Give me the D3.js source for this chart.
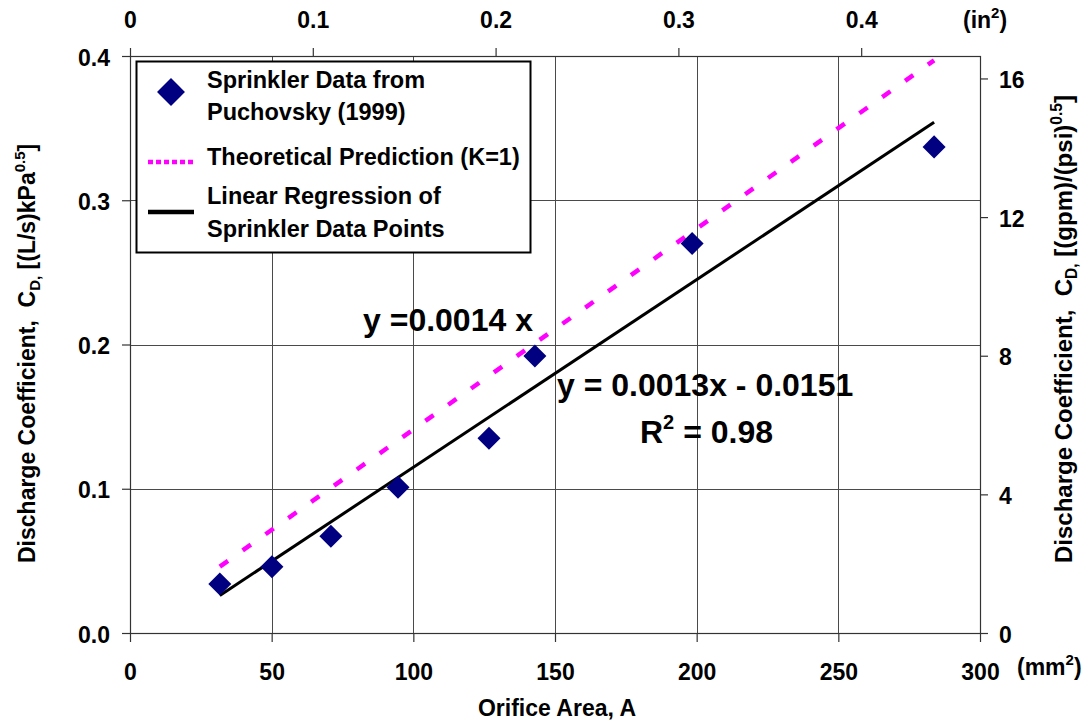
<!DOCTYPE html>
<html>
<head>
<meta charset="utf-8">
<script src="https://cdn.jsdelivr.net/npm/d3@7"></script>
<style>
  body { margin: 0; background: #fff; }
  svg text { font-family: "Liberation Sans", Arial, sans-serif; font-weight: bold; fill: #000; white-space: pre; }
</style>
</head>
<body>
<svg id="chart"></svg>
<script>
// data
const areaMm2 = [31.7, 50.1, 70.9, 94.6, 126.7, 142.9, 198.4, 283.8]
const cdData = [0.034, 0.046, 0.067, 0.101, 0.135, 0.192, 0.270, 0.337]
// line end points
const theoryX = [31.7, 283.8]
const theoryY = [0.046, 0.397]
const regX = [31.7, 283.8]
const regY = [0.026, 0.354]
// ticks
const xTicks = [0, 50, 100, 150, 200, 250, 300]
const yTicks = [0.0, 0.1, 0.2, 0.3, 0.4]
const topTicks = [0, 0.1, 0.2, 0.3, 0.4]
const rightTicks = [0, 4, 8, 12, 16]
const legendLabels = [["Sprinkler Data from", "Puchovsky (1999)"], ["Theoretical Prediction (K=1)"], ["Linear Regression of", "Sprinkler Data Points"]]

const width = 1088, height = 723
const plotL = 130, plotR = 980, plotT = 56, plotB = 633
const mm2PerIn2 = 645.16
const gpmFactor = 0.024027 // (L/s)/kPa^0.5 per gpm/psi^0.5

const svg = d3.select('#chart').attr('width', width).attr('height', height)

const xScale = d3.scaleLinear().domain([0, 300]).range([plotL, plotR])
const yScale = d3.scaleLinear().domain([0, 0.4]).range([plotB, plotT])
const xTopScale = d3.scaleLinear().domain([0, 300 / mm2PerIn2]).range([plotL, plotR])
const yRightScale = d3.scaleLinear().domain([0, 0.4 / gpmFactor]).range([plotB, plotT])

// gridlines
const grid = svg.append('g').attr('stroke', '#4a4a4a').attr('stroke-width', 1)
grid.selectAll('.vg').data(xTicks.slice(1, -1)).enter().append('line')
    .attr('x1', d => Math.round(xScale(d)) + 0.5).attr('x2', d => Math.round(xScale(d)) + 0.5)
    .attr('y1', plotT).attr('y2', plotB)
grid.selectAll('.hg').data(yTicks.slice(1, -1)).enter().append('line')
    .attr('y1', d => Math.round(yScale(d)) + 0.5).attr('y2', d => Math.round(yScale(d)) + 0.5)
    .attr('x1', plotL).attr('x2', plotR)

// axes
const styleAxis = (g) => {
    g.select('.domain').remove()
    g.selectAll('line').attr('stroke', '#333').attr('stroke-width', 1.2)
    g.selectAll('text').attr('font-size', 23).attr('fill', '#000')
}
const fmtTop = (d) => d === 0 ? '0' : d3.format('.1f')(d)

svg.append('g').attr('transform', `translate(0,${plotB})`)
    .call(d3.axisBottom(xScale).tickValues(xTicks).tickFormat(d3.format('d')).tickSize(9).tickSizeOuter(0))
    .call(styleAxis)
    .selectAll('text').attr('y', 47).attr('dy', null)

svg.append('g').attr('transform', `translate(0,${plotT})`)
    .call(d3.axisTop(xTopScale).tickValues(topTicks).tickFormat(fmtTop).tickSize(8).tickSizeOuter(0))
    .call(styleAxis)
    .selectAll('text').attr('y', -28).attr('dy', null)

svg.append('g').attr('transform', `translate(${plotL},0)`)
    .call(d3.axisLeft(yScale).tickValues(yTicks).tickFormat(d3.format('.1f')).tickSize(8).tickSizeOuter(0))
    .call(styleAxis)
    .selectAll('text').attr('x', -20).attr('dy', 9)

svg.append('g').attr('transform', `translate(${plotR},0)`)
    .call(d3.axisRight(yRightScale).tickValues(rightTicks).tickFormat(d3.format('d')).tickSize(8).tickSizeOuter(0))
    .call(styleAxis)
    .selectAll('text').attr('x', 19).attr('dy', 9)

// frame
svg.append('rect').attr('x', plotL + 0.5).attr('y', plotT + 0.5)
    .attr('width', plotR - plotL).attr('height', plotB - plotT)
    .attr('fill', 'none').attr('stroke', '#333').attr('stroke-width', 1.2)

// unit labels
const inLbl = svg.append('text').attr('x', 963).attr('y', 28).attr('font-size', 23)
inLbl.append('tspan').text('(in')
inLbl.append('tspan').attr('font-size', 15).attr('dy', -10).text('2')
inLbl.append('tspan').attr('dy', 10).text(')')

const mmLbl = svg.append('text').attr('x', 1017).attr('y', 675).attr('font-size', 23)
mmLbl.append('tspan').text('(mm')
mmLbl.append('tspan').attr('font-size', 15).attr('dy', -10).text('2')
mmLbl.append('tspan').attr('dy', 10).text(')')

// axis titles
svg.append('text').attr('x', 557).attr('y', 716).attr('text-anchor', 'middle')
    .attr('font-size', 23).text('Orifice Area, A')

const yTitle = (x, size, unit) => {
    const t = svg.append('text').attr('transform', `translate(${x},563) rotate(-90)`).attr('font-size', size)
    t.append('tspan').text('Discharge Coefficient,  C')
    t.append('tspan').attr('font-size', size * 0.65).attr('dy', 5).text('D,')
    t.append('tspan').attr('dy', -5).text(' [' + unit)
    t.append('tspan').attr('font-size', size * 0.65).attr('dy', -10).text('0.5')
    t.append('tspan').attr('dy', 10).text(']')
}
yTitle(35, 23, '(L/s)kPa')
yTitle(1072, 24, '(gpm)/(psi)')

// lines
const line = d3.line().x(d => xScale(d[0])).y(d => yScale(d[1]))
svg.append('path').datum(d3.zip(theoryX, theoryY)).attr('d', line)
    .attr('fill', 'none').attr('stroke', '#ff00ff').attr('stroke-width', 4.5)
    .attr('stroke-dasharray', '10,18')
svg.append('path').datum(d3.zip(regX, regY)).attr('d', line)
    .attr('fill', 'none').attr('stroke', '#000').attr('stroke-width', 3)

// points
const diamond = d3.symbol(d3.symbolSquare).size(265)
svg.selectAll('.pt').data(d3.zip(areaMm2, cdData)).enter().append('path')
    .attr('d', diamond)
    .attr('transform', d => `translate(${xScale(d[0])},${yScale(d[1])}) rotate(45)`)
    .attr('fill', '#000080')

// legend
const lg = svg.append('g')
lg.append('rect').attr('x', 136.5).attr('y', 61.5).attr('width', 394).attr('height', 191)
    .attr('fill', '#fff').attr('stroke', '#000').attr('stroke-width', 2)
lg.append('path').attr('d', d3.symbol(d3.symbolSquare).size(390))
    .attr('transform', 'translate(171,92) rotate(45)').attr('fill', '#000080')
lg.append('line').attr('x1', 148).attr('x2', 194).attr('y1', 162).attr('y2', 162)
    .attr('stroke', '#ff00ff').attr('stroke-width', 4.5).attr('stroke-dasharray', '5,3')
lg.append('line').attr('x1', 148).attr('x2', 194).attr('y1', 212).attr('y2', 212)
    .attr('stroke', '#000').attr('stroke-width', 4.5)
const legendBase = [[88, 120], [165], [204, 237]]
legendLabels.forEach((lines, i) => {
    lines.forEach((s, j) => {
        lg.append('text').attr('x', 207).attr('y', legendBase[i][j]).attr('font-size', 23.5).text(s)
    })
})

// equations
svg.append('text').attr('x', 363).attr('y', 331).attr('font-size', 32).text('y =0.0014 x')
svg.append('text').attr('x', 557).attr('y', 396).attr('font-size', 32).text('y = 0.0013x - 0.0151')
const r2 = svg.append('text').attr('x', 640).attr('y', 443).attr('font-size', 32)
r2.append('tspan').text('R')
r2.append('tspan').attr('font-size', 20).attr('dy', -14).text('2')
r2.append('tspan').attr('dy', 14).text(' = 0.98')
</script>
</body>
</html>
